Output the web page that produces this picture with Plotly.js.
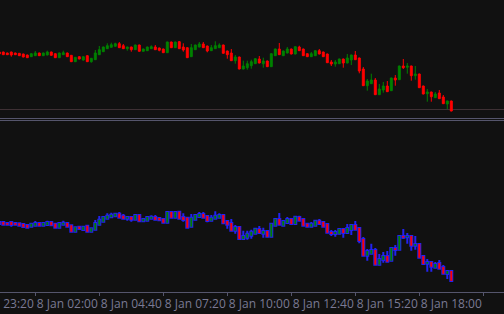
<!DOCTYPE html>
<html>
<head>
<meta charset="utf-8">
<script src="https://cdn.plot.ly/plotly-3.0.1.min.js"></script>
<style>html,body{margin:0;padding:0;background:#111111;}#chart{width:504px;height:314px;}</style>
</head>
<body>
<div id="chart"></div>
<script>
// 10-minute candles, 8 Jan, starting 00:30
const startTime = '2024-01-08T00:30:00';
const stepMinutes = 10;

const openVals = [68.0,68.0,67.0,68.0,67.0,66.7,66.0,65.0,63.3,64.3,67.0,64.3,65.0,68.0,66.3,62.3,65.3,67.0,64.7,58.3,
63.3,60.0,64.3,58.3,60.3,65.3,68.3,71.3,72.7,73.7,76.3,74.3,71.3,73.0,70.3,75.0,68.7,69.3,71.3,73.0,
72.0,71.0,67.3,78.0,72.3,78.3,73.0,72.3,63.3,70.3,73.0,76.0,74.0,69.3,71.3,72.3,75.0,69.0,67.0,59.3,
63.0,51.0,52.3,54.3,56.3,61.0,56.3,59.0,53.3,64.3,71.0,64.3,67.0,71.0,66.0,73.0,71.0,66.3,63.3,64.3,
69.3,68.0,66.0,58.0,56.0,56.3,61.0,57.0,60.0,65.0,62.0,51.0,34.3,36.3,40.0,25.3,30.0,34.0,29.3,42.0,
40.3,54.0,52.7,54.0,44.3,46.0,34.0,26.3,28.0,22.3,27.0,23.0,16.0,19.0];
const highVals = [68.3,68.3,67.3,68.3,67.3,67.0,66.3,65.3,66.6,69.0,67.3,67.3,69.3,68.3,66.6,67.3,69.3,67.3,65.0,63.0,
63.6,63.6,64.6,62.0,70.0,74.0,73.3,76.7,77.3,77.3,78.0,76.0,73.3,73.3,75.3,75.3,71.3,73.3,74.7,75.0,
72.3,71.3,78.3,78.3,78.3,79.0,76.7,72.6,76.0,75.3,78.0,78.0,74.3,75.0,78.7,76.7,75.3,69.3,71.0,65.0,
63.3,59.3,59.3,60.3,61.6,64.0,62.3,59.3,66.6,71.3,77.0,69.3,73.0,71.3,73.6,74.3,71.3,66.6,68.0,69.6,
71.0,68.3,66.3,60.0,60.0,61.3,61.3,66.0,65.3,69.0,62.3,53.0,41.0,46.3,42.0,36.0,38.0,39.0,42.3,45.0,
54.3,61.0,57.0,54.3,54.0,46.3,34.3,31.0,28.3,28.0,30.0,25.0,19.3,19.3];
const lowVals = [65.7,65.0,65.0,63.3,65.0,64.0,62.7,62.0,63.0,64.0,64.0,64.0,64.7,64.3,62.0,62.0,65.0,63.0,58.0,58.0,
60.7,59.3,58.0,57.3,60.0,65.0,68.0,71.0,72.4,73.4,72.0,71.0,69.3,68.3,70.0,68.4,68.4,69.0,71.0,70.0,
68.7,67.0,67.0,72.0,72.0,71.0,68.3,62.0,63.0,70.0,72.7,72.0,67.7,69.0,71.0,72.0,66.4,61.3,59.0,56.3,
50.7,50.7,50.3,51.3,56.0,56.7,52.3,53.0,53.0,64.0,65.0,64.0,66.7,65.7,65.7,69.0,64.0,63.0,63.0,64.0,
65.7,63.0,57.0,54.0,53.3,56.0,52.3,56.7,55.0,60.0,46.7,34.0,29.3,36.0,25.0,25.0,27.3,28.0,29.0,34.3,
40.0,51.0,46.3,39.3,40.3,32.0,25.7,18.3,18.3,22.0,21.0,16.0,11.0,8.7];
const closeVals = [66.0,65.3,65.3,65.0,65.3,64.3,63.0,62.3,66.3,67.0,64.3,67.0,68.0,64.7,62.3,67.0,67.3,63.3,58.3,62.7,
61.0,63.3,58.3,61.7,67.0,70.3,73.0,74.3,75.3,76.3,72.3,71.3,73.0,70.3,75.0,68.7,71.0,73.0,73.3,70.3,
69.7,67.3,78.0,72.3,78.0,71.3,70.0,62.3,72.3,75.0,76.0,72.3,69.0,72.3,74.3,75.0,66.7,65.3,59.3,63.0,
51.0,54.0,56.3,58.3,61.3,57.0,59.0,53.3,66.3,71.0,65.3,69.0,71.0,66.0,73.3,69.3,64.3,63.3,66.3,69.3,
66.0,63.3,57.3,56.0,58.0,61.0,57.0,62.0,65.0,60.3,49.0,34.3,39.0,40.0,25.3,31.0,34.0,28.3,42.0,40.0,
54.0,52.3,54.0,44.3,46.0,32.3,26.0,28.0,23.3,26.0,21.3,16.3,19.0,9.0];

// axis ticks (period boundaries) and their labels (drawn mid-period)
const tickStart = '2024-01-08 02:00';
const tickStepMinutes = 160;
const tickLabelTimes = ['2024-01-08 00:40','2024-01-08 03:20','2024-01-08 06:00','2024-01-08 08:40',
                        '2024-01-08 11:20','2024-01-08 14:00','2024-01-08 16:40','2024-01-08 19:20'];
const tickLabels = ['7 Jan 23:20','8 Jan 02:00','8 Jan 04:40','8 Jan 07:20',
                    '8 Jan 10:00','8 Jan 12:40','8 Jan 15:20','8 Jan 18:00'];
const xRange = ['2024-01-08 00:31:45', '2024-01-08 21:31:45'];

function pad(n){return (n<10?'0':'')+n;}
const times = [];
const t0 = new Date(startTime + 'Z').getTime();
for (let i = 0; i < openVals.length; i++) {
  const d = new Date(t0 + i * stepMinutes * 60000);
  times.push(d.getUTCFullYear()+'-'+pad(d.getUTCMonth()+1)+'-'+pad(d.getUTCDate())+' '+pad(d.getUTCHours())+':'+pad(d.getUTCMinutes()));
}

const GREEN = '#008000', RED = '#ff0000', BLUE = '#2222f0';

const topTrace = {
  type: 'candlestick', x: times, open: openVals, high: highVals, low: lowVals, close: closeVals,
  xaxis: 'x', yaxis: 'y', whiskerwidth: 0,
  increasing: {line: {color: GREEN, width: 1}, fillcolor: GREEN},
  decreasing: {line: {color: RED, width: 1}, fillcolor: RED},
  hoverinfo: 'none', showlegend: false
};
// lower panel: blue-outlined candles
const bottomOutline = {
  type: 'candlestick', x: times, open: openVals, high: highVals, low: lowVals, close: closeVals,
  xaxis: 'x2', yaxis: 'y2', whiskerwidth: 0,
  increasing: {line: {color: BLUE, width: 2}, fillcolor: BLUE},
  decreasing: {line: {color: BLUE, width: 2}, fillcolor: BLUE},
  hoverinfo: 'none', showlegend: false
};
const bottomFill = {
  type: 'candlestick', x: times, open: openVals, high: highVals, low: lowVals, close: closeVals,
  xaxis: 'x2', yaxis: 'y2', whiskerwidth: 0,
  increasing: {line: {color: GREEN, width: 0}, fillcolor: GREEN},
  decreasing: {line: {color: RED, width: 0}, fillcolor: RED},
  hoverinfo: 'none', showlegend: false
};
const labelAxisHolder = {type: 'scatter', mode: 'markers', x: [], y: [], xaxis: 'x3', yaxis: 'y2', hoverinfo: 'none', showlegend: false};

const H = 292;
const AX = '#55556c';
const TXT = '#7a7a94';
const layout = {
  width: 504, height: 314,
  margin: {l: 0, r: 0, t: 0, b: 22, pad: 0},
  paper_bgcolor: '#111111', plot_bgcolor: '#111111',
  showlegend: false,
  font: {family: '"Open Sans", sans-serif', size: 12, color: TXT},
  xaxis: {domain: [0, 1], anchor: 'y', range: xRange, type: 'date', showticklabels: false, ticks: '',
          showgrid: false, zeroline: false, showline: false, rangeslider: {visible: false}},
  xaxis2: {domain: [0, 1], anchor: 'y2', range: xRange, type: 'date', showgrid: false, zeroline: false,
           showline: true, linecolor: AX, linewidth: 1, ticks: 'outside', ticklen: 3, tickcolor: AX,
           tick0: tickStart, dtick: tickStepMinutes * 60000, showticklabels: false,
           rangeslider: {visible: false}},
  xaxis3: {overlaying: 'x2', anchor: 'y2', range: xRange, type: 'date', showgrid: false, zeroline: false,
           showline: false, ticks: 'outside', ticklen: 1, tickcolor: 'rgba(0,0,0,0)',
           tickmode: 'array', tickvals: tickLabelTimes, ticktext: tickLabels, ticklabeloverflow: 'allow',
           tickfont: {family: '"Open Sans", sans-serif', size: 12, color: TXT}},
  yaxis: {domain: [1 - 118.5 / H, 1], range: [1.5, 120], visible: false, fixedrange: true},
  yaxis2: {domain: [0, 1 - 120 / H], range: [-2, 170], visible: false, fixedrange: true},
  shapes: [
    {type: 'line', xref: 'paper', yref: 'paper', x0: 0, x1: 1, y0: 1 - 109.5 / H, y1: 1 - 109.5 / H, line: {color: '#3e3034', width: 1}, layer: 'below'},
    {type: 'line', xref: 'paper', yref: 'paper', x0: 0, x1: 1, y0: 1 - 118.5 / H, y1: 1 - 118.5 / H, line: {color: AX, width: 1}},
    {type: 'line', xref: 'paper', yref: 'paper', x0: 0, x1: 1, y0: 1 - 120.5 / H, y1: 1 - 120.5 / H, line: {color: AX, width: 1}}
  ]
};

Plotly.newPlot('chart', [topTrace, bottomOutline, bottomFill, labelAxisHolder], layout, {staticPlot: true, displayModeBar: false});
</script>
</body>
</html>
